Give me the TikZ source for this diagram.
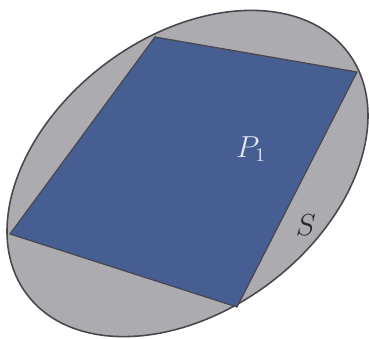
\documentclass[tikz,border=0pt]{standalone}
\usepackage{amsmath, amssymb}
\usepackage{tikz}
\usetikzlibrary{positioning, calc}

\definecolor{setgray}{RGB}{172,172,176}
\definecolor{polyblue}{RGB}{70,94,146}
\definecolor{edgedark}{RGB}{72,72,78}

\begin{document}
\begin{tikzpicture}[
    setshape/.style={draw=edgedark, fill=setgray, line width=0.9pt},
    polyshape/.style={draw=edgedark, fill=polyblue, line width=0.7pt,
                      line join=round},
    lbl/.style={inner sep=0pt}]
    \useasboundingbox (0,0) rectangle (7.38,6.78);
    % the set S
    \draw[setshape, rotate around={37:(3.75,3.31)}] (3.75,3.31)
      ellipse [x radius=4.02cm, y radius=2.74cm];
    % corners of the inscribed polygon
    \coordinate (pa) at (3.10,6.04);
    \coordinate (pb) at (7.14,5.34);
    \coordinate (pc) at (4.74,0.64);
    \coordinate (pd) at (0.20,2.10);
    \draw[polyshape] (pa) -- (pb) -- (pc) -- (pd) -- cycle;
    \node[lbl, text=white!85!polyblue, font=\fontsize{16}{18}\selectfont]
      (p1) at (5.02,3.80) {$P_1$};
    \node[lbl, text=black!85, font=\LARGE] (s) at (6.12,2.28) {$S$};
\end{tikzpicture}
\end{document}
